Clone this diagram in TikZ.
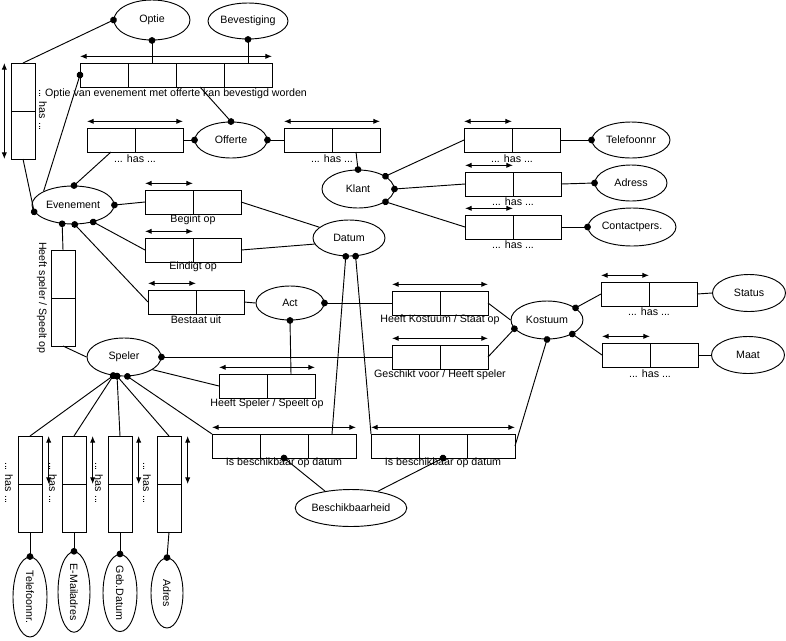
\documentclass[tikz,border=0pt]{standalone}
\usepackage{fontspec}
\setmainfont{Liberation Sans}
\usetikzlibrary{shapes.geometric,positioning,arrows.meta}

\tikzset{
  ent/.style 2 args={draw, ellipse, inner sep=0pt, minimum width=#1*0.75pt, minimum height=#2*0.75pt},
  role/.style={draw, inner sep=0pt, outer sep=0pt, minimum width=36pt, minimum height=18pt},
  vrole/.style={draw, inner sep=0pt, outer sep=0pt, minimum width=18pt, minimum height=36pt},
  lbl/.style={inner sep=0pt},
  dot/.style={-{Circle[length=5pt]}, shorten >=-2.5pt},
  uc/.style={{Latex[length=5pt,width=4pt]}-{Latex[length=5pt,width=4pt]}},
}

\begin{document}
\begin{tikzpicture}[x=0.75pt,y=-0.75pt,line width=0.7pt,font=\fontsize{8}{9.6}\selectfont]
		\useasboundingbox (0,0) rectangle (786,640);
		% object types
		\node[ent={76}{40}] (op) at (152,20) {Optie};
		\node[ent={80}{36}] (be) at (248,21) {Bevestiging};
		\node[ent={72}{36}] (of) at (231,140) {Offerte};
		\node[ent={72}{38}] (kl) at (358,189) {Klant};
		\node[ent={78}{36}] (te) at (631,140) {Telefoonnr};
		\node[ent={72}{36}] (ad) at (631,183) {Adress};
		\node[ent={88}{38}] (cp) at (632,227) {Contactpers.};
		\node[ent={82}{38}] (ev) at (73,205) {Evenement};
		\node[ent={72}{36}] (da) at (349,238) {Datum};
		\node[ent={68}{34}] (ac) at (290,303) {Act};
		\node[ent={72}{38}] (ko) at (547,320) {Kostuum};
		\node[ent={73}{37}] (sta) at (749,293) {Status};
		\node[ent={73}{37}] (ma) at (748,355) {Maat};
		\node[ent={74}{38}] (sp) at (124,357) {Speler};
		\node[ent={106}{37}] (bh) at (351,508) {Beschikbaarheid};
		\node[ent={34}{80}] (tn) at (30,597) {\rotatebox{-90}{Telefoonnr.}};
		\node[ent={32}{80}] (em) at (74,592) {\rotatebox{-90}{E-Mailadres}};
		\node[ent={34}{74}] (gd) at (120,593) {\rotatebox{-90}{Geb.Datum}};
		\node[ent={32}{70}] (adr) at (167,593) {\rotatebox{-90}{Adres}};
		%
		% fact types
		\node[role] (ob1) at (104,75) {};
		\node[role, right=0pt of ob1] (ob2) {};
		\node[role, right=0pt of ob2] (ob3) {};
		\node[role, right=0pt of ob3] (ob4) {};
		\node[vrole] (lh1) at (23,87) {};
		\node[vrole, below=0pt of lh1] (lh2) {};
		\node[role] (eo1) at (111,140) {};
		\node[role, right=0pt of eo1] (eo2) {};
		\node[role] (ok1) at (308,140) {};
		\node[role, right=0pt of ok1] (ok2) {};
		\node[role] (kt1) at (488,140) {};
		\node[role, right=0pt of kt1] (kt2) {};
		\node[role] (ka1) at (489,184) {};
		\node[role, right=0pt of ka1] (ka2) {};
		\node[role] (kc1) at (489,227) {};
		\node[role, right=0pt of kc1] (kc2) {};
		\node[role] (bo1) at (169,202) {};
		\node[role, right=0pt of bo1] (bo2) {};
		\node[role] (ei1) at (169,250) {};
		\node[role, right=0pt of ei1] (ei2) {};
		\node[role] (bu1) at (172,302) {};
		\node[role, right=0pt of bu1] (bu2) {};
		\node[vrole] (hs1) at (63,274) {};
		\node[vrole, below=0pt of hs1] (hs2) {};
		\node[role] (hk1) at (416,303) {};
		\node[role, right=0pt of hk1] (hk2) {};
		\node[role] (gv1) at (416,357) {};
		\node[role, right=0pt of gv1] (gv2) {};
		\node[role] (hp1) at (243,386) {};
		\node[role, right=0pt of hp1] (hp2) {};
		\node[role] (ib1) at (236,446) {};
		\node[role, right=0pt of ib1] (ib2) {};
		\node[role, right=0pt of ib2] (ib3) {};
		\node[role] (ic1) at (395,446) {};
		\node[role, right=0pt of ic1] (ic2) {};
		\node[role, right=0pt of ic2] (ic3) {};
		\node[role] (ks1) at (625,294) {};
		\node[role, right=0pt of ks1] (ks2) {};
		\node[role] (km1) at (626,355) {};
		\node[role, right=0pt of km1] (km2) {};
		\node[vrole] (st1) at (30,460) {};
		\node[vrole, below=0pt of st1] (st2) {};
		\node[vrole] (se1) at (74,460) {};
		\node[vrole, below=0pt of se1] (se2) {};
		\node[vrole] (sg1) at (120,460) {};
		\node[vrole, below=0pt of sg1] (sg2) {};
		\node[vrole] (sa1) at (169,460) {};
		\node[vrole, below=0pt of sa1] (sa2) {};
		%
		% readings
		\node[lbl] (obL) at (176,94) {Optie van evenement met offerte kan bevestigd worden};
		\node[lbl, rotate=-90] (lhL) at (43,110) {... has ...};
		\node[lbl] (eoL) at (135,159) {... has ...};
		\node[lbl] (okL) at (332,159) {... has ...};
		\node[lbl] (ktL) at (512,159) {... has ...};
		\node[lbl] (kaL) at (513,202) {... has ...};
		\node[lbl] (kcL) at (513,245) {... has ...};
		\node[lbl] (boL) at (193,220) {Begint op};
		\node[lbl] (eiL) at (193,267) {Eindigt op};
		\node[lbl] (buL) at (196,320) {Bestaat uit};
		\node[lbl, rotate=-90] (hsL) at (42,298) {Heeft speler / Speelt op};
		\node[lbl] (hkL) at (440,320) {Heeft Kostuum / Staat op};
		\node[lbl] (gvL) at (440,375) {Geschikt voor / Heeft speler};
		\node[lbl] (hpL) at (267,404) {Heeft Speler / Speelt op};
		\node[lbl] (ibL) at (284,463) {Is beschikbaar op datum};
		\node[lbl] (icL) at (443,463) {Is beschikbaar op datum};
		\node[lbl] (ksL) at (649,312) {... has ...};
		\node[lbl] (kmL) at (650,374) {... has ...};
		\node[lbl, rotate=-90] (stL) at (9,483) {... has ...};
		\node[lbl, rotate=-90] (seL) at (53,483) {... has ...};
		\node[lbl, rotate=-90] (sgL) at (99,483) {... has ...};
		\node[lbl, rotate=-90] (saL) at (147,483) {... has ...};
		%
		% uniqueness constraints
		\draw[uc] ([yshift=5pt]ob1.north west) -- ([yshift=5pt]ob4.north east);
		\draw[uc] ([xshift=-5pt]lh1.north west) -- ([xshift=-5pt]lh2.south west);
		\draw[uc] ([yshift=5pt]eo1.north west) -- ([yshift=5pt]eo2.north east);
		\draw[uc] ([yshift=5pt]ok1.north west) -- ([yshift=5pt]ok2.north east);
		\draw[uc] ([yshift=5pt]kt1.north west) -- ([yshift=5pt]kt1.north east);
		\draw[uc] ([yshift=5pt]ka1.north west) -- ([yshift=5pt]ka1.north east);
		\draw[uc] ([yshift=5pt]kc1.north west) -- ([yshift=5pt]kc1.north east);
		\draw[uc] ([yshift=5pt]bo1.north west) -- ([yshift=5pt]bo1.north east);
		\draw[uc] ([yshift=5pt]ei1.north west) -- ([yshift=5pt]ei1.north east);
		\draw[uc] ([yshift=5pt]bu1.north west) -- ([yshift=5pt]bu1.north east);
		\draw[uc] ([yshift=5pt]hk1.north west) -- ([yshift=5pt]hk2.north east);
		\draw[uc] ([yshift=5pt]gv1.north west) -- ([yshift=5pt]gv2.north east);
		\draw[uc] ([yshift=5pt]hp1.north west) -- ([yshift=5pt]hp2.north east);
		\draw[uc] ([yshift=5pt]ib1.north west) -- ([yshift=5pt]ib3.north east);
		\draw[uc] ([yshift=5pt]ic1.north west) -- ([yshift=5pt]ic3.north east);
		\draw[uc] ([yshift=5pt]ks1.north west) -- ([yshift=5pt]ks1.north east);
		\draw[uc] ([yshift=5pt]km1.north west) -- ([yshift=5pt]km1.north east);
		\draw[uc] ([xshift=5pt]st1.north east) -- ([xshift=5pt]st1.south east);
		\draw[uc] ([xshift=5pt]se1.north east) -- ([xshift=5pt]se1.south east);
		\draw[uc] ([xshift=5pt]sg1.north east) -- ([xshift=5pt]sg1.south east);
		\draw[uc] ([xshift=5pt]sa1.north east) -- ([xshift=5pt]sa1.south east);
		%
		% mandatory roles
		\path[dot]
		(lh1.north) edge (op.west)
		(lh2.south) edge (ev.190)
		(ob2.north) edge (op.south)
		(ob4.north) edge (be.south)
		(ev.155) edge (ob1.west)
		(ob3.south) edge (of.north)
		(eo1.south) edge (ev.87)
		(eo2.east) edge (of.west)
		(ok1.west) edge (of.east)
		(ok2.south) edge (kl.north)
		(kt1.west) edge (kl.25)
		(ka1.west) edge (kl.east)
		(kc1.west) edge (kl.-25)
		(kt2.east) edge (te.west)
		(ka2.east) edge (ad.west)
		(kc2.east) edge (cp.west)
		(bo1.west) edge (ev.east)
		(ei1.west) edge (ev.-40)
		(bu1.west) edge (ev.-85)
		(hs1.north) edge (ev.-120)
		(hk1.west) edge (ac.east)
		(gv1.west) edge (sp.east)
		(gv2.east) edge (ko.195)
		(hp2.north) edge (ac.south)
		(ib1.north west) edge (sp.-80)
		(ib3.north) edge (da.-100)
		(ic1.north west) edge (da.-70)
		(ic3.east) edge (ko.south)
		(bh.147) edge (ib2.south)
		(bh.32) edge (ic2.south)
		(ks1.west) edge (ko.23)
		(km1.west) edge (ko.-29)
		(st1.north) edge (sp.-120)
		(se1.north) edge (sp.-120)
		(sg1.north) edge (sp.-110)
		(sa1.north) edge (sp.-110)
		(st2.south) edge (tn.north)
		(se2.south) edge (em.north)
		(sg2.south) edge (gd.north)
		(sa2.south) edge (adr.north);
		% other roles
		\path
		(bo2.east) edge (da.160)
		(ei2.east) edge (da.190)
		(bu2.east) edge (ac.west)
		(hs2.south) edge (sp.west)
		(hk2.east) edge (ko.west)
		(hp1.west) edge (sp.-24)
		(ks2.east) edge (sta.west)
		(km2.east) edge (ma.west);
\end{tikzpicture}
\end{document}
